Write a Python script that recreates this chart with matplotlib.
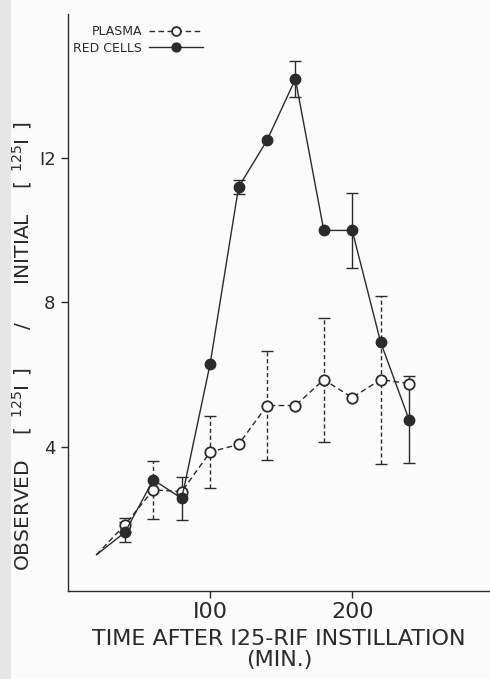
import numpy as np
import matplotlib
matplotlib.use("Agg")
import matplotlib.pyplot as plt
from matplotlib.patches import Rectangle

# ---- data ----
time_min = [20, 40, 60, 80, 100, 120, 140, 160, 180, 200, 220, 240]
plasma = [1.0, 1.83, 2.8, 2.75, 3.85, 4.06, 5.14, 5.14, 5.86, 5.36, 5.86, 5.75]
plasma_err = [0, 0.2, 0.8, 0, 1.0, 0, 1.5, 0, 1.72, 0, 2.33, 0]
red_cells = [1.0, 1.62, 3.08, 2.56, 6.3, 11.2, 12.5, 14.2, 10.0, 10.0, 6.9, 4.75]
red_err = [0, 0.28, 0, 0.6, 0, 0.2, 0, 0.5, 0, 1.03, 0, 1.2]
xticks = [100, 200]
yticks = [4, 8, 12]
ytick_labels = ["4", "8", "I2"]
xtick_labels = ["I00", "200"]

INK = "#2b2b2b"
plt.rcParams['font.family'] = ['DejaVu Sans']

fig = plt.figure(figsize=(4.9, 6.79), dpi=100, facecolor="#fbfbfb")
# faint scan-edge shading on the left margin
fig.patches.append(Rectangle((0, 0), 0.022, 1, transform=fig.transFigure,
                             facecolor="#e6e6e6", edgecolor="none", zorder=-5))
ax = fig.add_axes([0.139, 0.130, 0.861, 0.849], facecolor="#fbfbfb")

t = np.array(time_min, dtype=float)
p = np.array(plasma)
pe = np.array(plasma_err)
r = np.array(red_cells)
re = np.array(red_err)

ax.plot(t, p, linestyle=(0, (4, 2.5)), color=INK, lw=1.0, marker='o', ms=7.5,
        mfc="white", mec=INK, mew=1.3, markevery=list(range(1, len(t))),
        label="PLASMA", zorder=3)
ax.plot(t, r, linestyle='-', color=INK, lw=1.0, marker='o', ms=7.5,
        mfc=INK, mec=INK, markevery=list(range(1, len(t))),
        label="RED CELLS", zorder=4)

m = pe > 0
eb = ax.errorbar(t[m], p[m], yerr=pe[m], fmt='none', ecolor=INK, elinewidth=1.0,
                 capsize=4, capthick=1.0, zorder=2)
for lc in eb.lines[2]:
    lc.set_linestyle((0, (3, 2)))
m2 = re > 0
ax.errorbar(t[m2], r[m2], yerr=re[m2], fmt='none', ecolor=INK, elinewidth=1.0,
            capsize=4, capthick=1.0, zorder=2)

ax.set_xlim(0, 297)
ax.set_ylim(0, 16)
ax.set_xticks(xticks)
ax.set_xticklabels(xtick_labels)
ax.set_yticks(yticks)
ax.set_yticklabels(ytick_labels)
ax.tick_params(direction='out', length=5, width=1.0, color=INK, labelcolor=INK,
               pad=4)
ax.tick_params(axis='x', labelsize=16, pad=3)
ax.tick_params(axis='y', labelsize=13)
for s in ['top', 'right']:
    ax.spines[s].set_visible(False)
for s in ['left', 'bottom']:
    ax.spines[s].set_color(INK)
    ax.spines[s].set_linewidth(1.0)

ax.set_xlabel("TIME AFTER I25-RIF INSTILLATION\n(MIN.)", fontsize=16,
              color=INK, labelpad=5, linespacing=1.1)
ax.set_ylabel(r"OBSERVED    $\left[\;\,^{125}\mathrm{I}\;\,\right]$      /      INITIAL    $\left[\;\,^{125}\mathrm{I}\;\,\right]$",
              fontsize=14.5, color=INK)
ax.yaxis.set_label_coords(-0.08, 0.425)

leg = ax.legend(loc='upper left', bbox_to_anchor=(0.0, 0.99), markerfirst=False,
                frameon=False, fontsize=9, handlelength=4.3, handletextpad=0.6,
                labelspacing=0.3, borderaxespad=0.0, markerscale=0.85)
for txt in leg.get_texts():
    txt.set_color(INK)

fig.savefig("out.png", dpi=100, facecolor=fig.get_facecolor())
